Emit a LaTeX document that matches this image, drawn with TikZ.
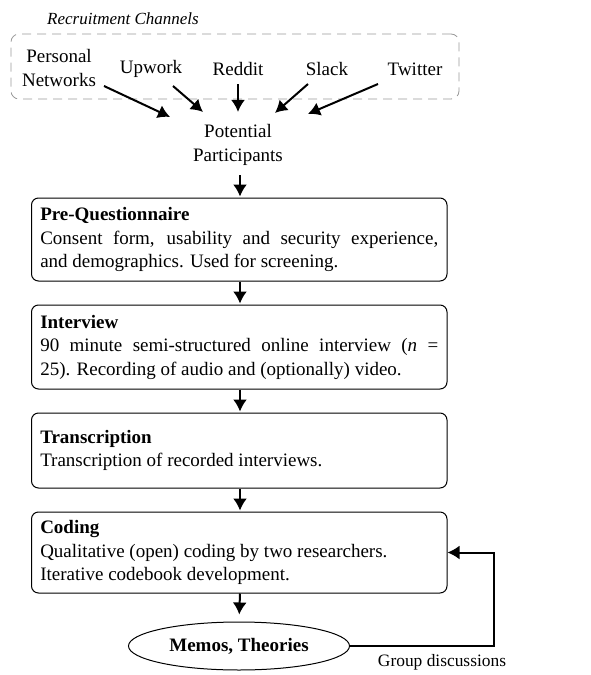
\documentclass[tikz,border=0pt]{standalone}
\usepackage{fontspec}
\setmainfont{Liberation Serif}
\usetikzlibrary{arrows.meta,shapes.geometric,calc}
\begin{document}
\begin{tikzpicture}[x=0.5pt,y=-0.5pt,
  txt/.style={font=\fontsize{9.5}{11.75}\selectfont, inner sep=0pt},
  smalltxt/.style={font=\fontsize{8.7}{10}\selectfont, inner sep=0pt},
  chanbox/.style={draw=gray!80, dashed, dash pattern=on 4.5pt off 3pt, line width=0.4pt, rounded corners=4pt},
  stepbox/.style={draw, line width=0.5pt, rounded corners=3.5pt, font=\fontsize{9.5}{11.75}\selectfont,
     text width=199pt, minimum width=207.75pt, inner sep=3.4pt, align=justify},
  arr/.style={line width=1pt, -{Latex[length=6pt,width=7pt]}},
  memo/.style={draw, ellipse, line width=0.5pt, minimum width=110.5pt, minimum height=24pt, inner sep=0pt,
     font=\fontsize{9.5}{11.75}\selectfont\bfseries}
]
\useasboundingbox (0,0) rectangle (590,675);

% recruitment channels
\node[inner sep=0pt, font=\fontsize{8.5}{10}\selectfont\itshape, anchor=base] (rc) at (123,24) {Recruitment Channels};
\node[chanbox, minimum width=224pt, minimum height=32.5pt] (chan) at (235,66.5) {};

\node[txt, anchor=base, align=center] (pn) at (59,86) {Personal\\Networks};
\node[txt, anchor=base] (up) at (151,73) {Upwork};
\node[txt, anchor=base] (rd) at (238,75) {Reddit};
\node[txt, anchor=base] (sl) at (327,75) {Slack};
\node[txt, anchor=base] (tw) at (415,75) {Twitter};

\node[txt, anchor=base, align=center, inner sep=3pt] (pp) at (238,161) {Potential\\Participants};

\draw[arr] ($(pn.base)+(45,0)$) -- ($(pp.north)+(-68,-1)$);
\draw[arr] ($(up.base)+(22,13)$) -- ($(pp.north)+(-35,-6)$);
\draw[arr] ($(rd.base)+(0,9)$) -- ($(pp.north)+(0,-6)$);
\draw[arr] ($(sl.base)+(-19,9)$) -- ($(pp.north)+(37,-5)$);
\draw[arr] ($(tw.base)+(-37,9)$) -- ($(pp.north)+(70,-4)$);

% steps
\node[stepbox, minimum height=41.5pt] (b1) at (239.25,239.5)
  {\textbf{Pre-Questionnaire}\\Consent form, usability and security experience,\linebreak and demographics. Used for screening.};
\node[stepbox, minimum height=42pt] (b2) at (239.25,347)
  {\textbf{Interview}\\90 minute semi-structured online interview (\textit{n}~=\linebreak 25). Recording of audio and (optionally) video.};
\node[stepbox, minimum height=37.5pt] (b3) at (239.25,450.5)
  {\textbf{Transcription}\\Transcription of recorded interviews.};
\node[stepbox, minimum height=40.5pt] (b4) at (239.25,552.5)
  {\textbf{Coding}\\Qualitative (open) coding by two researchers.\\Iterative codebook development.};

\node[memo] (m) at (239,646) {Memos, Theories};
\node[smalltxt, anchor=base] (gd) at (442,666) {Group discussions};

\draw[arr] ($(pp.south)+(2,4)$) -- ($(b1.north)+(0.75,-1)$);
\draw[arr] ($(b1.south)+(0.75,0)$) -- ($(b2.north)+(0.75,-1)$);
\draw[arr] ($(b2.south)+(0.75,0)$) -- ($(b3.north)+(0.75,-1)$);
\draw[arr] ($(b3.south)+(0.75,0)$) -- ($(b4.north)+(0.75,-1)$);
\draw[arr, shorten >=3.5pt] ($(b4.south)+(0.75,0)$) -- (m.north);
\draw[arr] (m.east) -- ++(144,0) |- (b4.east);
\end{tikzpicture}
\end{document}
